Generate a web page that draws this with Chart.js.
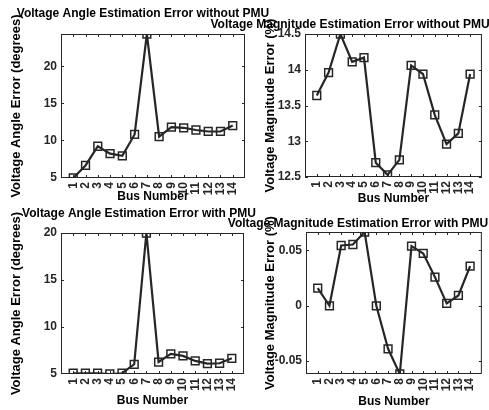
<!DOCTYPE html>
<html>
<head>
<meta charset="utf-8">
<script src="https://cdn.jsdelivr.net/npm/chart.js@4"></script>
<style>
  html, body { margin: 0; padding: 0; background: #fff; }
  #wrap { position: relative; width: 489px; height: 410px; overflow: hidden; }
  #wrap canvas { position: absolute; left: 0; top: 0; }
</style>
</head>
<body>
<div id="wrap">
  <canvas id="c1" width="489" height="410"></canvas>
  <canvas id="c2" width="489" height="410"></canvas>
  <canvas id="c3" width="489" height="410"></canvas>
  <canvas id="c4" width="489" height="410"></canvas>
</div>
<script>
// bus numbers on the x axis
const busNumbers = [1, 2, 3, 4, 5, 6, 7, 8, 9, 10, 11, 12, 13, 14];

// values
const angleErrNoPmu = [4.9, 6.6, 9.2, 8.2, 7.9, 10.8, 24.4, 10.5, 11.8, 11.7, 11.4, 11.2, 11.2, 12.0];
const magErrNoPmu = [13.64, 13.96, 14.5, 14.11, 14.17, 12.70, 12.53, 12.74, 14.06, 13.94, 13.37, 12.96, 13.11, 13.94];
const angleErrPmu = [5.0, 5.0, 5.0, 4.92, 5.0, 5.96, 20.0, 6.2, 7.07, 6.86, 6.32, 6.04, 6.07, 6.6];
const magErrPmu = [0.016, 0.0, 0.0545, 0.0554, 0.0666, 0.0, -0.0389, -0.0617, 0.0539, 0.0473, 0.0259, 0.0021, 0.0093, 0.0358];

// y tick labels
const angleTicksNoPmu = [5, 10, 15, 20];
const magTicksNoPmu = [12.5, 13, 13.5, 14, 14.5];
const angleTicksPmu = [5, 10, 15, 20];
const magTicksPmu = [-0.05, 0, 0.05];

const FONT = "'Liberation Sans', Arial, sans-serif";
const INK = "#262626";
const W = 489, H = 410;

// box around the axes plus small inward tick marks, and the title
const framePlugin = {
  id: "frame",
  afterDraw(chart, args, opts) {
    const { ctx, chartArea: a, scales } = chart;
    ctx.save();
    ctx.strokeStyle = INK;
    ctx.lineWidth = 1;
    ctx.strokeRect(a.left + 0.5, a.top + 0.5, a.right - a.left - 1, a.bottom - a.top - 1);
    ctx.beginPath();
    scales.x.ticks.forEach(t => {
      const px = Math.round(scales.x.getPixelForValue(t.value)) + 0.5;
      ctx.moveTo(px, a.bottom); ctx.lineTo(px, a.bottom - 3);
      ctx.moveTo(px, a.top); ctx.lineTo(px, a.top + 3);
    });
    scales.y.ticks.forEach(t => {
      const py = Math.round(scales.y.getPixelForValue(t.value)) + 0.5;
      ctx.moveTo(a.left, py); ctx.lineTo(a.left + 3, py);
      ctx.moveTo(a.right, py); ctx.lineTo(a.right - 3, py);
    });
    ctx.stroke();
    ctx.fillStyle = "#000";
    ctx.font = "bold 12px " + FONT;
    ctx.textAlign = "center";
    ctx.textBaseline = "middle";
    ctx.fillText(opts.text, opts.x, opts.y);
    ctx.restore();
  }
};

function makePanel(id, title, yLabel, values, yTicks, yMin, yMax, box) {
  const yTitleSize = 13, xTitleSize = 12;
  const padLeft = box.yTitleX - yTitleSize * 1.2 / 2;
  const padBottom = H - box.xTitleY - xTitleSize * 1.2 / 2;
  new Chart(document.getElementById(id), {
    type: "line",
    data: {
      datasets: [{
        data: busNumbers.map((b, i) => ({ x: b, y: values[i] })),
        borderColor: INK,
        borderWidth: 2.2,
        pointStyle: "rect",
        pointRadius: 5.5,
        pointBorderWidth: 1.5,
        pointBorderColor: INK,
        pointBackgroundColor: "rgba(0,0,0,0)",
        tension: 0
      }]
    },
    options: {
      responsive: false,
      animation: false,
      layout: { padding: { left: padLeft, top: box.top, right: W - box.right, bottom: padBottom } },
      plugins: {
        legend: { display: false },
        tooltip: { enabled: false },
        frame: { text: title, x: box.titleX, y: box.titleY }
      },
      scales: {
        x: {
          type: "linear",
          min: 0, max: 15,
          afterBuildTicks: s => { s.ticks = busNumbers.map(v => ({ value: v })); },
          afterFit: s => { s.height = box.xTitleY + xTitleSize * 0.6 - box.bottom; },
          grid: { display: false, drawTicks: false },
          border: { display: false },
          ticks: {
            autoSkip: false, minRotation: 90, maxRotation: 90, padding: 4,
            color: INK, font: { family: FONT, size: 12, weight: "bold" },
            callback: v => String(v)
          },
          title: { display: true, text: "Bus Number", color: "#000", padding: 0,
                   font: { family: FONT, size: xTitleSize, weight: "bold" } }
        },
        y: {
          min: yMin, max: yMax,
          afterBuildTicks: s => { s.ticks = yTicks.map(v => ({ value: v })); },
          afterFit: s => { s.width = box.left - padLeft; },
          grid: { display: false, drawTicks: false },
          border: { display: false },
          ticks: {
            padding: 4, color: INK, font: { family: FONT, size: 12, weight: "bold" },
            callback: v => String(v)
          },
          title: { display: true, text: yLabel, color: "#000", padding: 0,
                   font: { family: FONT, size: yTitleSize, weight: "bold" } }
        }
      }
    },
    plugins: [framePlugin]
  });
}

makePanel("c1", "Voltage Angle Estimation Error without PMU", "Voltage Angle Error (degrees)",
  angleErrNoPmu, angleTicksNoPmu, 4.9, 24.4,
  { left: 61, top: 34, right: 245, bottom: 178, yTitleX: 16, xTitleY: 197, titleX: 143, titleY: 14 });
makePanel("c2", "Voltage Magnitude Estimation Error without PMU", "Voltage Magnitude Error (%)",
  magErrNoPmu, magTicksNoPmu, 12.5, 14.5,
  { left: 305, top: 34, right: 487, bottom: 177, yTitleX: 270, xTitleY: 199, titleX: 350, titleY: 25 });
makePanel("c3", "Voltage Angle Estimation Error with PMU", "Voltage Angle Error (degrees)",
  angleErrPmu, angleTicksPmu, 4.92, 20,
  { left: 61, top: 233, right: 244, bottom: 374, yTitleX: 16, xTitleY: 401, titleX: 139, titleY: 214 });
makePanel("c4", "Voltage Magnitude Estimation Error with PMU", "Voltage Magnitude Error (%)",
  magErrPmu, magTicksPmu, -0.0617, 0.0667,
  { left: 306, top: 232, right: 487, bottom: 374, yTitleX: 270, xTitleY: 402, titleX: 358, titleY: 224 });
</script>
</body>
</html>
